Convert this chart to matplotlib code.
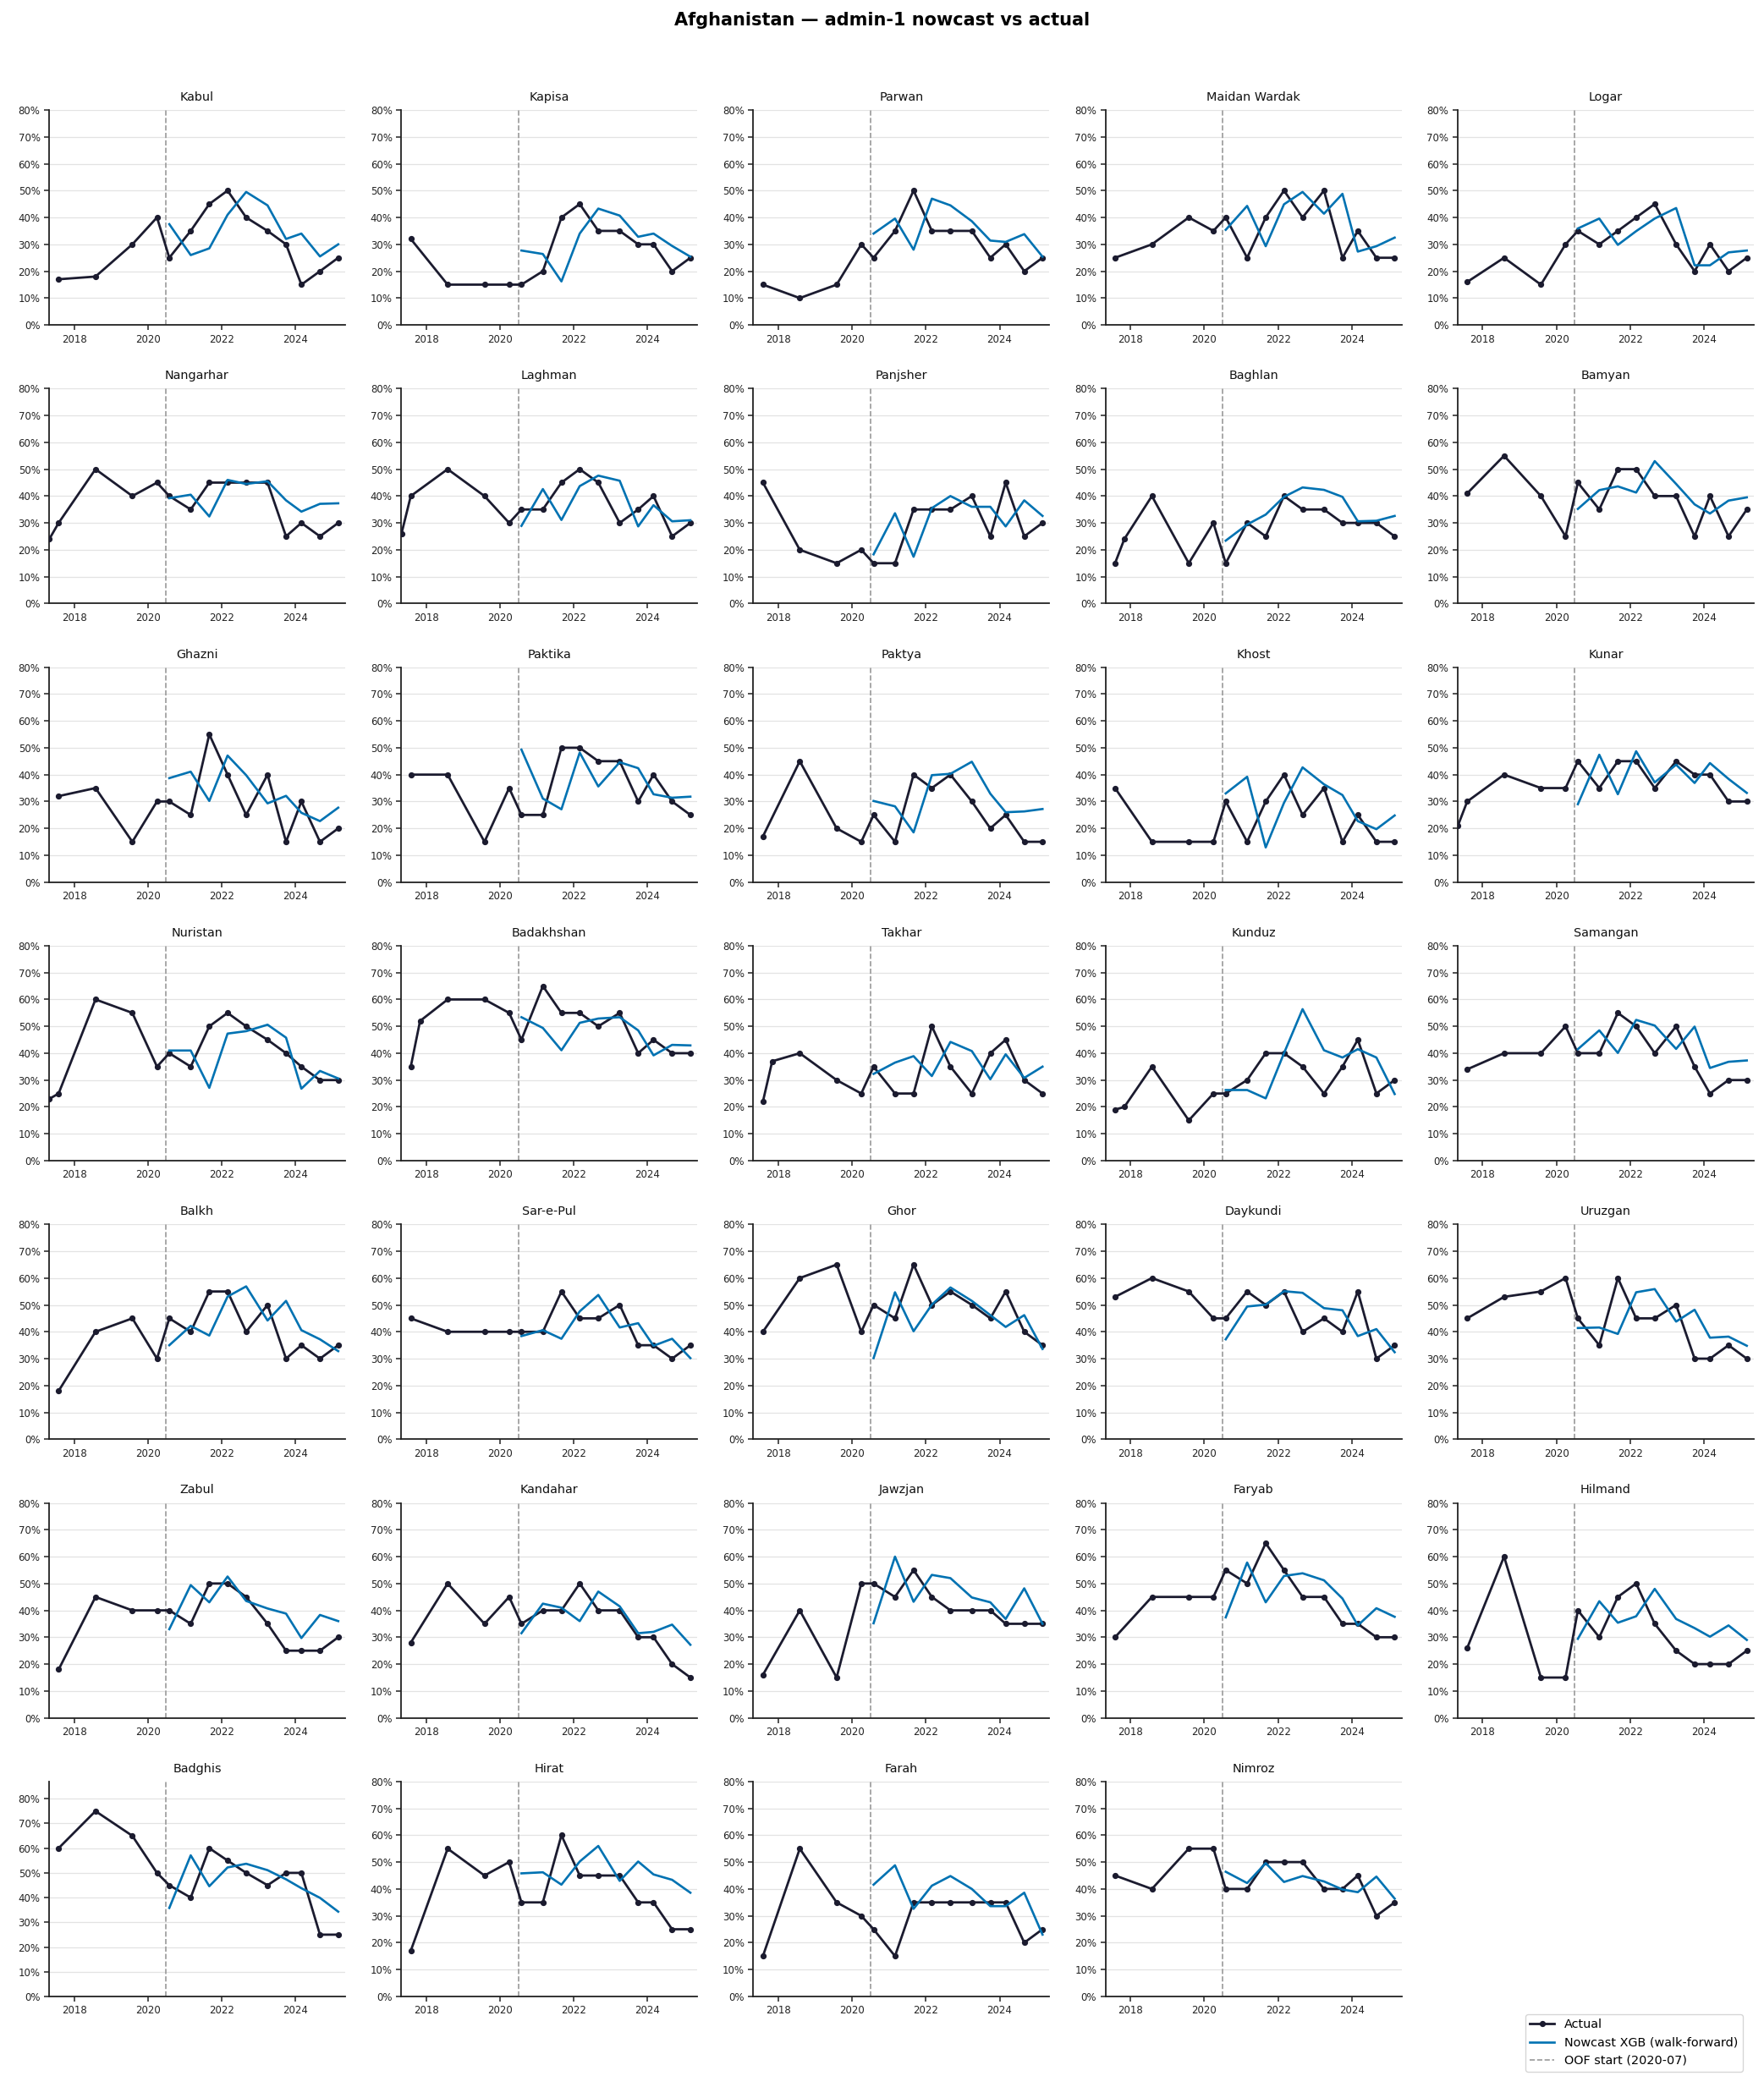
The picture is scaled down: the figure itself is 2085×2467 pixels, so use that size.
import numpy as np
import pandas as pd
import matplotlib
matplotlib.use("Agg")
import matplotlib.pyplot as plt
import matplotlib.dates as mdates
from matplotlib.ticker import PercentFormatter, MultipleLocator
from matplotlib.lines import Line2D

plt.rcParams['font.family'] = ['DejaVu Sans']

N = None

provinces = ["Kabul", "Kapisa", "Parwan", "Maidan Wardak", "Logar",
             "Nangarhar", "Laghman", "Panjsher", "Baghlan", "Bamyan",
             "Ghazni", "Paktika", "Paktya", "Khost", "Kunar",
             "Nuristan", "Badakhshan", "Takhar", "Kunduz", "Samangan",
             "Balkh", "Sar-e-Pul", "Ghor", "Daykundi", "Uruzgan",
             "Zabul", "Kandahar", "Jawzjan", "Faryab", "Hilmand",
             "Badghis", "Hirat", "Farah", "Nimroz"]

dates = ['2017-05-01', '2017-08-01', '2017-11-01', '2018-08-01', '2019-08-01',
         '2020-04-01', '2020-08-01', '2021-03-01', '2021-09-01', '2022-03-01',
         '2022-09-01', '2023-04-01', '2023-10-01', '2024-03-01', '2024-09-01',
         '2025-03-01']

nowcast_dates = dates[6:]
oof_start = '2020-07-01'

# actual share (%) at each date in `dates`
actual = [
    [N, 17, N, 18, 30, 40, 25, 35, 45, 50, 40, 35, 30, 15, 20, 25],   # Kabul
    [N, 32, N, 15, 15, 15, 15, 20, 40, 45, 35, 35, 30, 30, 20, 25],   # Kapisa
    [N, 15, N, 10, 15, 30, 25, 35, 50, 35, 35, 35, 25, 30, 20, 25],   # Parwan
    [N, 25, N, 30, 40, 35, 40, 25, 40, 50, 40, 50, 25, 35, 25, 25],   # Maidan Wardak
    [N, 16, N, 25, 15, 30, 35, 30, 35, 40, 45, 30, 20, 30, 20, 25],   # Logar
    [24, 30, N, 50, 40, 45, 40, 35, 45, 45, 45, 45, 25, 30, 25, 30],  # Nangarhar
    [26, 40, N, 50, 40, 30, 35, 35, 45, 50, 45, 30, 35, 40, 25, 30],  # Laghman
    [N, 45, N, 20, 15, 20, 15, 15, 35, 35, 35, 40, 25, 45, 25, 30],   # Panjsher
    [N, 15, 24, 40, 15, 30, 15, 30, 25, 40, 35, 35, 30, 30, 30, 25],  # Baghlan
    [N, 41, N, 55, 40, 25, 45, 35, 50, 50, 40, 40, 25, 40, 25, 35],   # Bamyan
    [N, 32, N, 35, 15, 30, 30, 25, 55, 40, 25, 40, 15, 30, 15, 20],   # Ghazni
    [N, 40, N, 40, 15, 35, 25, 25, 50, 50, 45, 45, 30, 40, 30, 25],   # Paktika
    [N, 17, N, 45, 20, 15, 25, 15, 40, 35, 40, 30, 20, 25, 15, 15],   # Paktya
    [N, 35, N, 15, 15, 15, 30, 15, 30, 40, 25, 35, 15, 25, 15, 15],   # Khost
    [21, 30, N, 40, 35, 35, 45, 35, 45, 45, 35, 45, 40, 40, 30, 30],  # Kunar
    [23, 25, N, 60, 55, 35, 40, 35, 50, 55, 50, 45, 40, 35, 30, 30],  # Nuristan
    [N, 35, 52, 60, 60, 55, 45, 65, 55, 55, 50, 55, 40, 45, 40, 40],  # Badakhshan
    [N, 22, 37, 40, 30, 25, 35, 25, 25, 50, 35, 25, 40, 45, 30, 25],  # Takhar
    [N, 19, 20, 35, 15, 25, 25, 30, 40, 40, 35, 25, 35, 45, 25, 30],  # Kunduz
    [N, 34, N, 40, 40, 50, 40, 40, 55, 50, 40, 50, 35, 25, 30, 30],   # Samangan
    [N, 18, N, 40, 45, 30, 45, 40, 55, 55, 40, 50, 30, 35, 30, 35],   # Balkh
    [N, 45, N, 40, 40, 40, 40, 40, 55, 45, 45, 50, 35, 35, 30, 35],   # Sar-e-Pul
    [N, 40, N, 60, 65, 40, 50, 45, 65, 50, 55, 50, 45, 55, 40, 35],   # Ghor
    [N, 53, N, 60, 55, 45, 45, 55, 50, 55, 40, 45, 40, 55, 30, 35],   # Daykundi
    [N, 45, N, 53, 55, 60, 45, 35, 60, 45, 45, 50, 30, 30, 35, 30],   # Uruzgan
    [N, 18, N, 45, 40, 40, 40, 35, 50, 50, 45, 35, 25, 25, 25, 30],   # Zabul
    [N, 28, N, 50, 35, 45, 35, 40, 40, 50, 40, 40, 30, 30, 20, 15],   # Kandahar
    [N, 16, N, 40, 15, 50, 50, 45, 55, 45, 40, 40, 40, 35, 35, 35],   # Jawzjan
    [N, 30, N, 45, 45, 45, 55, 50, 65, 55, 45, 45, 35, 35, 30, 30],   # Faryab
    [N, 26, N, 60, 15, 15, 40, 30, 45, 50, 35, 25, 20, 20, 20, 25],   # Hilmand
    [N, 60, N, 75, 65, 50, 45, 40, 60, 55, 50, 45, 50, 50, 25, 25],   # Badghis
    [N, 17, N, 55, 45, 50, 35, 35, 60, 45, 45, 45, 35, 35, 25, 25],   # Hirat
    [N, 15, N, 55, 35, 30, 25, 15, 35, 35, 35, 35, 35, 35, 20, 25],   # Farah
    [N, 45, N, 40, 55, 55, 40, 40, 50, 50, 50, 40, 40, 45, 30, 35],   # Nimroz
]

# nowcast (%) at each date in `nowcast_dates`
nowcast = [
    [37.5, 26, 28.5, 41, 49.5, 44.5, 32, 34, 25.5, 30],             # Kabul
    [27.7, 26.4, 16.2, 34, 43.3, 40.7, 32.8, 34, 29.4, 25.4],       # Kapisa
    [34, 39.6, 28, 47, 44.5, 38.6, 31.4, 30.9, 33.8, 25.4],         # Parwan
    [35.4, 44.3, 29.3, 44.9, 49.5, 41.4, 48.8, 27.3, 29.3, 32.5],   # Maidan Wardak
    [35.9, 39.6, 29.8, 34.9, 39.6, 43.5, 22.2, 22.2, 27, 27.7],     # Logar
    [39.2, 40.5, 32.4, 46, 44.5, 45.5, 38.4, 34.2, 37.1, 37.3],     # Nangarhar
    [28.9, 42.6, 31.1, 43.7, 47.6, 45.7, 28.7, 36.6, 30.6, 31],     # Laghman
    [18.3, 33.6, 17.4, 35.5, 40, 36, 36, 28.7, 38.4, 32.6],         # Panjsher
    [23.4, 29.4, 33.1, 39.7, 43.2, 42.3, 39.7, 30.6, 30.8, 32.6],   # Baghlan
    [35.2, 42.2, 43.6, 41.3, 53, 44.5, 36.9, 33.5, 38.3, 39.5],     # Bamyan
    [38.7, 41.1, 30.2, 47.1, 39.8, 29.3, 32.1, 25.8, 22.7, 27.7],   # Ghazni
    [49.3, 31.1, 27.1, 48.2, 35.6, 44.6, 42.4, 32.7, 31.4, 31.8],   # Paktika
    [30.2, 28.2, 18.5, 39.8, 40.3, 44.8, 32.9, 26, 26.3, 27.2],     # Paktya
    [33, 39.2, 12.9, 29.5, 42.7, 36.4, 32.4, 22.7, 19.7, 24.8],     # Khost
    [29, 47.4, 32.7, 48.7, 37.1, 43.7, 36.9, 44.3, 38.4, 33.2],     # Kunar
    [41, 41, 27.1, 47.3, 48.2, 50.6, 45.8, 26.8, 33.4, 30.6],       # Nuristan
    [53.4, 49.4, 41.1, 51.3, 52.9, 53.4, 48.5, 39.2, 43.1, 42.9],   # Badakhshan
    [32.3, 36.5, 38.9, 31.5, 44.2, 40.8, 30.3, 39.6, 30.8, 35],     # Takhar
    [26.3, 26.3, 23.2, 40, 56.4, 41.1, 38.4, 41.5, 38.4, 24.8],     # Kunduz
    [41.5, 48.5, 40.1, 52.4, 50.3, 41.6, 49.9, 34.5, 36.8, 37.3],   # Samangan
    [35, 42.2, 38.6, 53.1, 56.9, 44.2, 51.5, 40.6, 37.2, 32.8],     # Balkh
    [38.4, 40.6, 37.4, 47.6, 53.7, 41.6, 43.2, 34.8, 37.4, 30.2],   # Sar-e-Pul
    [30.2, 54.7, 40.2, 50.1, 56.5, 51.5, 46.2, 41.8, 46.2, 33.6],   # Ghor
    [37.2, 49.4, 50.1, 55.1, 54.5, 48.8, 48, 38.4, 41, 32.4],       # Daykundi
    [41.4, 41.6, 39.2, 54.7, 55.9, 43.8, 48.2, 37.8, 38.2, 34.8],   # Uruzgan
    [33, 49.4, 43, 52.6, 43.5, 40.7, 38.8, 29.7, 38.3, 36],         # Zabul
    [31.5, 42.5, 41, 36, 47, 41.5, 31.5, 32, 34.7, 27.2],           # Kandahar
    [35.2, 60, 43.2, 53.2, 52, 44.8, 43, 36.8, 48.2, 35],           # Jawzjan
    [37.4, 57.8, 43, 52.8, 53.8, 51.2, 44.4, 34.4, 40.8, 37.6],     # Faryab
    [29.4, 43.4, 35.4, 37.8, 48, 36.8, 33.4, 30.2, 34.4, 29],       # Hilmand
    [35.8, 57.1, 44.6, 52.2, 53.7, 51.1, 47.4, 43.8, 39.9, 34.3],   # Badghis
    [45.8, 46.2, 41.6, 50.2, 56, 43, 50.2, 45.4, 43.4, 38.6],       # Hirat
    [41.6, 48.8, 32.6, 41.2, 44.8, 40, 33.6, 33.6, 38.6, 23],       # Farah
    [46.4, 42.2, 49.6, 42.6, 44.8, 42.8, 39.8, 38.8, 44.6, 36.4],   # Nimroz
]

ACTUAL_C = '#1b1b2f'
NOW_C = '#0072B2'
OOF_C = '#9a9a9a'

d_all = pd.to_datetime(dates)
d_now = pd.to_datetime(nowcast_dates)
d_oof = pd.Timestamp(oof_start)
x_lo = pd.Timestamp('2017-04-28')
x_hi = pd.Timestamp('2025-05-09')

fig, axes = plt.subplots(7, 5, figsize=(20.85, 24.67), dpi=100)
fig.subplots_adjust(left=0.0278, right=0.9942, top=0.9473, bottom=0.0434,
                    wspace=0.189, hspace=0.296)
axf = axes.ravel()

for i, name in enumerate(provinces):
    ax = axf[i]
    vals = actual[i]
    xs = [d for d, v in zip(d_all, vals) if v is not None]
    ys = [v for v in vals if v is not None]
    ax.plot(xs, ys, color=ACTUAL_C, lw=2.0, marker='o', ms=4.2, zorder=3)
    ax.plot(d_now, nowcast[i], color=NOW_C, lw=1.9, zorder=4)
    ax.axvline(d_oof, color=OOF_C, ls='--', lw=1.2, zorder=2)
    top = max(80, max(ys) * 1.16)
    ax.set_ylim(0, top)
    ax.set_xlim(x_lo, x_hi)
    ax.yaxis.set_major_locator(MultipleLocator(10))
    ax.yaxis.set_major_formatter(PercentFormatter(xmax=100, decimals=0))
    ax.xaxis.set_major_locator(mdates.YearLocator(base=2))
    ax.xaxis.set_major_formatter(mdates.DateFormatter('%Y'))
    ax.grid(axis='y', color='#e3e3e3', lw=0.9, zorder=0)
    ax.set_axisbelow(True)
    for s in ('top', 'right'):
        ax.spines[s].set_visible(False)
    for s in ('left', 'bottom'):
        ax.spines[s].set_linewidth(1.3)
        ax.spines[s].set_color('#222222')
    ax.tick_params(axis='both', labelsize=8.5, length=4, width=1.1,
                   color='#222222', labelcolor='#222222', direction='out')
    ax.set_title(name, fontsize=10.4, pad=8, color='#111111')

for j in range(len(provinces), len(axf)):
    axf[j].axis('off')

handles = [
    Line2D([0], [0], color=ACTUAL_C, lw=2.0, marker='o', ms=4.2),
    Line2D([0], [0], color=NOW_C, lw=1.9),
    Line2D([0], [0], color=OOF_C, lw=1.2, ls='--'),
]
labels = ['Actual', 'Nowcast XGB (walk-forward)', 'OOF start (2020-07)']
fig.legend(handles, labels, loc='lower right', bbox_to_anchor=(0.9915, 0.0045),
           fontsize=10.4, frameon=True)

fig.suptitle('Afghanistan — admin-1 nowcast vs actual', fontsize=15,
             fontweight='bold', y=0.9902, va='center')

fig.savefig('out.png', dpi=100)
